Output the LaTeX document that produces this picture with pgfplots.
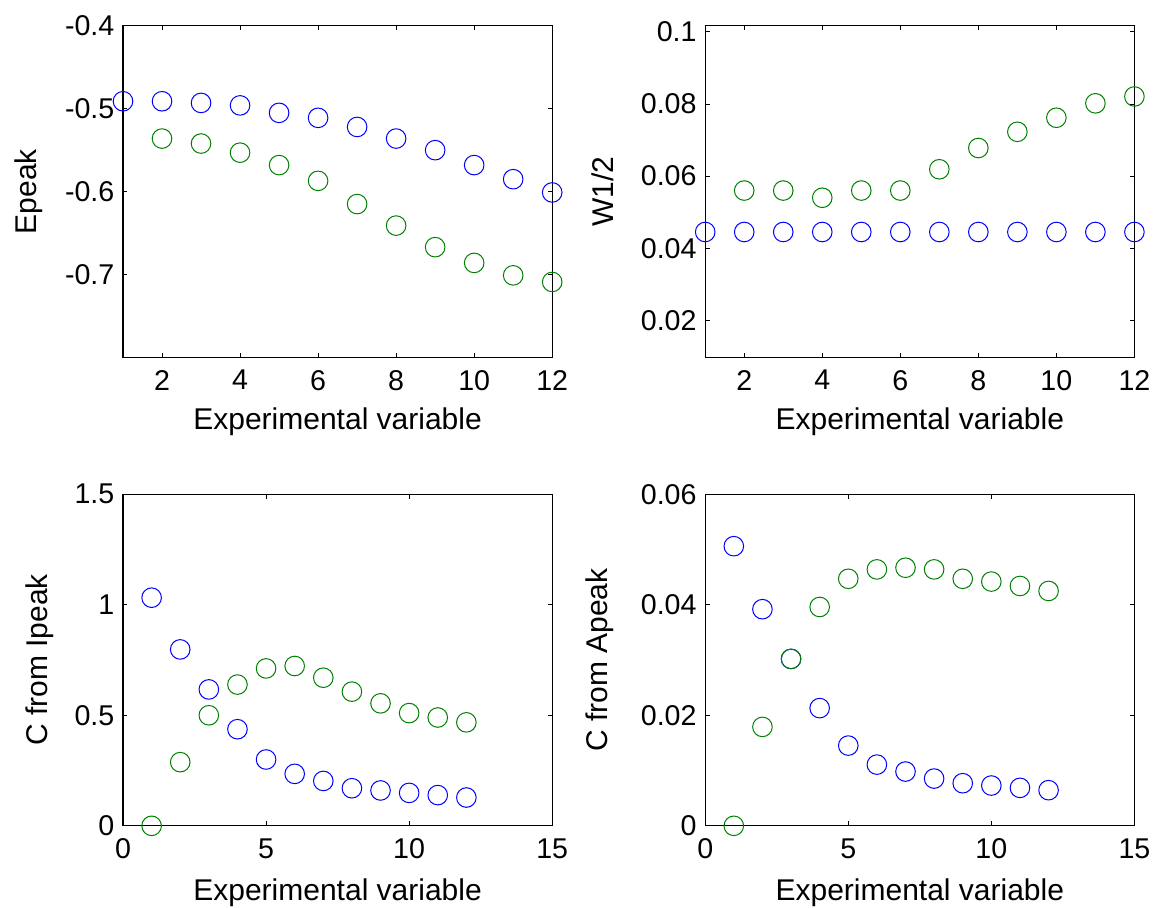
\documentclass[border=0pt]{standalone}
\usepackage{fontspec}
\setmainfont{Liberation Sans}
\usepackage{pgfplots}
\pgfplotsset{compat=1.18}
\definecolor{mblue}{RGB}{0,0,255}
\definecolor{mgreen}{RGB}{0,128,0}

\pgfplotsset{
  mat/.style={
    scale only axis, width=214.6pt, height=165.8pt,
    anchor=south west, clip=false,
    scaled y ticks=false, scaled x ticks=false,
    axis line style={line width=0.6pt}, every tick/.style={black, line width=0.5pt},
    major tick length=2.2pt, tick align=inside, minor tick num=0,
    tick label style={font=\fontsize{14.3}{16}\selectfont},
    label style={font=\fontsize{15}{17}\selectfont},
    xticklabel style={yshift=-2.8pt},
    yticklabel style={xshift=-0.8pt},
    xlabel={Experimental variable},
    xlabel style={at={(axis description cs:0.5,0)}, anchor=base, yshift=-36pt},
  },
  bl/.style={only marks, mark=o, mark size=4.9pt, mblue, mark options={line width=0.5pt}},
  gr/.style={only marks, mark=o, mark size=4.9pt, mgreen, mark options={line width=0.5pt}},
}

\begin{document}
\begin{tikzpicture}
\useasboundingbox (0,0) rectangle (577pt,-453.5pt);

% top left
\begin{axis}[mat, at={(61.5pt,-178.7pt)},
  xmin=1, xmax=12, xtick={2,4,6,8,10,12}, xticklabels={2,4,6,8,10,12},
  ymin=-0.8, ymax=-0.4, ytick={-0.7,-0.6,-0.5,-0.4}, yticklabels={-0.7,-0.6,-0.5,-0.4},
  ylabel={Epeak}, ylabel style={at={(axis description cs:-0.2005,0.5)}, anchor=base}]
\addplot[bl] coordinates {(1,-0.491) (2,-0.491) (3,-0.493) (4,-0.496) (5,-0.505) (6,-0.511)
  (7,-0.522) (8,-0.536) (9,-0.550) (10,-0.568) (11,-0.585) (12,-0.601)};
\addplot[gr] coordinates {(2,-0.536) (3,-0.542) (4,-0.553) (5,-0.568) (6,-0.587)
  (7,-0.615) (8,-0.641) (9,-0.667) (10,-0.686) (11,-0.701) (12,-0.709)};
\end{axis}

% top right
\begin{axis}[mat, at={(352.6pt,-178.7pt)},
  xmin=1, xmax=12, xtick={2,4,6,8,10,12}, xticklabels={2,4,6,8,10,12},
  ymin=0.0097, ymax=0.1017, ytick={0.02,0.04,0.06,0.08,0.1}, yticklabels={0.02,0.04,0.06,0.08,0.1},
  ylabel={W1/2}, ylabel style={at={(axis description cs:-0.2135,0.5)}, anchor=base}]
\addplot[bl] coordinates {(1,0.0445) (2,0.0445) (3,0.0445) (4,0.0445) (5,0.0445) (6,0.0445)
  (7,0.0445) (8,0.0445) (9,0.0445) (10,0.0445) (11,0.0445) (12,0.0445)};
\addplot[gr] coordinates {(2,0.056) (3,0.056) (4,0.054) (5,0.056) (6,0.056)
  (7,0.0619) (8,0.0678) (9,0.0723) (10,0.0762) (11,0.0802) (12,0.0821)};
\end{axis}

% bottom left
\begin{axis}[mat, at={(61.5pt,-412.9pt)},
  xmin=0, xmax=15, xtick={0,5,10,15}, xticklabels={0,5,10,15},
  ymin=0, ymax=1.5, ytick={0,0.5,1,1.5}, yticklabels={0,0.5,1,1.5},
  xlabel style={yshift=-1.5pt},
  ylabel={C from Ipeak}, ylabel style={at={(axis description cs:-0.177,0.5)}, anchor=base}]
\addplot[bl] coordinates {(1,1.032) (2,0.798) (3,0.617) (4,0.437) (5,0.300) (6,0.235)
  (7,0.203) (8,0.170) (9,0.160) (10,0.149) (11,0.139) (12,0.128)};
\addplot[gr] coordinates {(1,0) (2,0.288) (3,0.500) (4,0.639) (5,0.712) (6,0.723)
  (7,0.670) (8,0.607) (9,0.554) (10,0.510) (11,0.490) (12,0.468)};
\end{axis}

% bottom right
\begin{axis}[mat, at={(352.6pt,-412.9pt)},
  xmin=0, xmax=15, xtick={0,5,10,15}, xticklabels={0,5,10,15},
  ymin=0, ymax=0.06, ytick={0,0.02,0.04,0.06}, yticklabels={0,0.02,0.04,0.06},
  xlabel style={yshift=-1.5pt},
  ylabel={C from Apeak}, ylabel style={at={(axis description cs:-0.228,0.5)}, anchor=base}]
\addplot[bl] coordinates {(1,0.0506) (2,0.0392) (3,0.0302) (4,0.0213) (5,0.01452) (6,0.01108)
  (7,0.00982) (8,0.00855) (9,0.00771) (10,0.00729) (11,0.00687) (12,0.00645)};
\addplot[gr] coordinates {(1,0) (2,0.0179) (3,0.0302) (4,0.0396) (5,0.0447) (6,0.0464)
  (7,0.0467) (8,0.0464) (9,0.0447) (10,0.0442) (11,0.0434) (12,0.0425)};
\end{axis}
\end{tikzpicture}
\end{document}
